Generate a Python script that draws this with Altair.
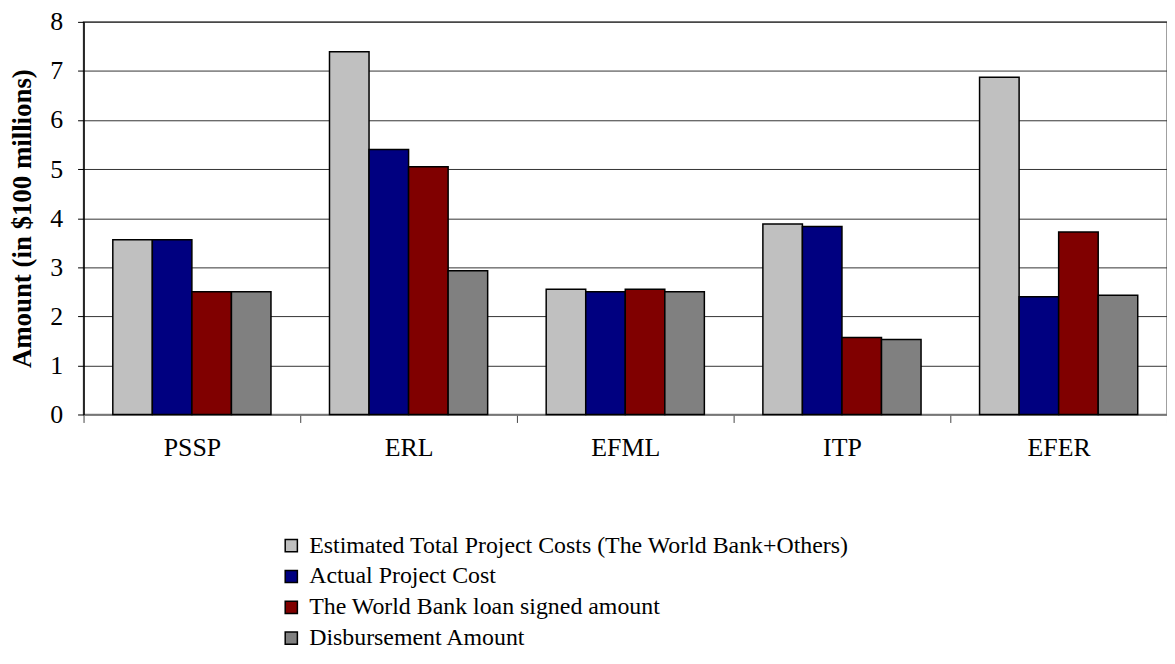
import altair as alt
import pandas as pd

categories = ["PSSP", "ERL", "EFML", "ITP", "EFER"]
series = [
    "Estimated Total Project Costs (The World Bank+Others)",
    "Actual Project Cost",
    "The World Bank loan signed amount",
    "Disbursement Amount",
]
estimated = [3.56, 7.39, 2.55, 3.88, 6.87]
actual = [3.56, 5.40, 2.50, 3.83, 2.40]
loan = [2.50, 5.05, 2.55, 1.57, 3.72]
disbursed = [2.50, 2.93, 2.50, 1.53, 2.43]
colors = ["#C0C0C0", "#000080", "#800000", "#808080"]
y_ticks = [0, 1, 2, 3, 4, 5, 6, 7, 8]

rows = []
for s, vals in zip(series, [estimated, actual, loan, disbursed]):
    for c, v in zip(categories, vals):
        rows.append({"Project": c, "Series": s, "Amount": v})
df = pd.DataFrame(rows)

font = "Liberation Serif"

chart = alt.Chart(df).mark_bar(stroke="black", strokeWidth=1.5).encode(
    x=alt.X(
        "Project:N",
        sort=categories,
        scale=alt.Scale(paddingInner=0, paddingOuter=0),
        axis=alt.Axis(
            title=None, labelAngle=0, labelFont=font, labelFontSize=26,
            labelColor="black", labelPadding=12, tickBand="extent",
            tickSize=8, tickColor="#444", domainColor="#808080", domainWidth=1.5,
            grid=False, labelLimit=0,
        ),
    ),
    xOffset=alt.XOffset(
        "Series:N", sort=series,
        scale=alt.Scale(paddingInner=0, paddingOuter=0.74),
    ),
    y=alt.Y(
        "Amount:Q",
        scale=alt.Scale(domain=[0, 8]),
        axis=alt.Axis(
            title="Amount (in $100 millions)", titleFont=font, titleFontSize=27,
            titleFontWeight="bold", titleColor="black", titlePadding=13,
            labelFont=font, labelFontSize=26, labelColor="black", labelPadding=15,
            values=y_ticks, labelOverlap=False, tickSize=6, tickColor="black",
            domainColor="black", domainWidth=1.5, gridColor="#333333", gridWidth=1,
        ),
    ),
    color=alt.Color(
        "Series:N",
        sort=series,
        scale=alt.Scale(domain=series, range=colors),
        legend=alt.Legend(
            title=None, orient="none", legendX=197, legendY=515,
            direction="vertical", symbolType="square", symbolSize=150,
            symbolStrokeColor="black", symbolStrokeWidth=1.5,
            labelFont=font, labelFontSize=24, labelColor="black",
            rowPadding=7, labelOffset=6, labelLimit=0, padding=0,
        ),
    ),
).properties(
    width=1090, height=395,
    autosize=alt.AutoSizeParams(type="none"),
    padding={"left": 76, "top": 12, "right": 0, "bottom": 240},
).configure_view(stroke="#808080", strokeWidth=1.5)

chart.save("out.html", embed_options={"renderer": "svg", "actions": False})
